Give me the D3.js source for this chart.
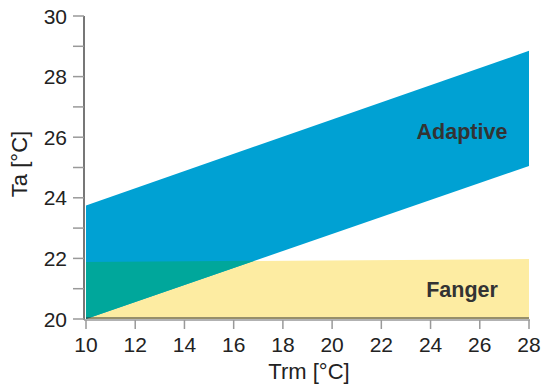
<!DOCTYPE html>
<html>
<head>
<meta charset="utf-8">
<script src="https://cdn.jsdelivr.net/npm/d3@7"></script>
<style>
  body { margin: 0; background: #fff; }
  text { font-family: "Liberation Sans", Arial, sans-serif; }
</style>
</head>
<body>
<div id="chart"></div>
<script>
// band edges: [Trm, Ta]
var adaptiveUpper = [[10, 23.75], [28, 28.85]];
var adaptiveLower = [[10, 20.0], [28, 25.05]];
var fangerUpper = [[10, 21.88], [28, 21.98]];
var fangerLower = [[10, 20.0], [28, 20.0]];
var xTicks = [10, 12, 14, 16, 18, 20, 22, 24, 26, 28];
var yTicks = [20, 21, 22, 23, 24, 25, 26, 27, 28, 29, 30];
var yLabels = [20, 22, 24, 26, 28, 30];

var width = 542;
var height = 389;

var svg = d3.select("#chart").append("svg")
    .attr("width", width)
    .attr("height", height);

var x = d3.scaleLinear().domain([10, 28]).range([86, 529]);
var y = d3.scaleLinear().domain([20, 30]).range([319, 16]);

function band(upper, lower) {
    var pts = upper.concat(lower.slice().reverse());
    return d3.line().x(function (d) { return x(d[0]); }).y(function (d) { return y(d[1]); })(pts) + "Z";
}

// clip for the overlap of the two zones
svg.append("clipPath").attr("id", "fangerClip")
    .append("path").attr("d", band(fangerUpper, fangerLower));

svg.append("path")
    .attr("d", band(fangerUpper, fangerLower))
    .attr("fill", "#fdeca2");

svg.append("path")
    .attr("d", band(adaptiveUpper, adaptiveLower))
    .attr("fill", "#00a1d3");

svg.append("path")
    .attr("d", band(adaptiveUpper, adaptiveLower))
    .attr("fill", "#00a79b")
    .attr("clip-path", "url(#fangerClip)");

// dark line along the bottom of the fill
svg.append("line")
    .attr("x1", x(10)).attr("x2", x(28))
    .attr("y1", y(20) - 1).attr("y2", y(20) - 1)
    .attr("stroke", "#333").attr("stroke-width", 1.2);

// axes
var gy = svg.append("g").attr("transform", "translate(84,0)");
gy.append("line").attr("x1", 0).attr("x2", 0).attr("y1", y(30)).attr("y2", y(20) + 1)
    .attr("stroke", "#777").attr("stroke-width", 2);
gy.selectAll(".tick").data(yTicks).enter().append("line")
    .attr("x1", -11).attr("x2", 0)
    .attr("y1", function (d) { return y(d); }).attr("y2", function (d) { return y(d); })
    .attr("stroke", "#999").attr("stroke-width", 1.5);
gy.selectAll(".lab").data(yLabels).enter().append("text")
    .attr("x", -17).attr("y", function (d) { return y(d); })
    .attr("dy", "0.36em")
    .attr("text-anchor", "end")
    .attr("font-size", "21px").attr("fill", "#222")
    .text(function (d) { return d; });

var gx = svg.append("g").attr("transform", "translate(0,320)");
gx.append("line").attr("x1", 84).attr("x2", x(28) + 1).attr("y1", 0).attr("y2", 0)
    .attr("stroke", "#999").attr("stroke-width", 1.5);
gx.selectAll(".tick").data(xTicks).enter().append("line")
    .attr("x1", function (d) { return x(d); }).attr("x2", function (d) { return x(d); })
    .attr("y1", 0).attr("y2", 9)
    .attr("stroke", "#999").attr("stroke-width", 1.5);
gx.selectAll(".lab").data(xTicks).enter().append("text")
    .attr("x", function (d) { return x(d); }).attr("y", 24)
    .attr("dy", "0.36em")
    .attr("text-anchor", "middle")
    .attr("font-size", "21px").attr("fill", "#222")
    .text(function (d) { return d; });

// axis titles
svg.append("text")
    .attr("x", 309).attr("y", 379)
    .attr("text-anchor", "middle")
    .attr("font-size", "22px").attr("fill", "#222")
    .text("Trm [°C]");

svg.append("text")
    .attr("transform", "translate(27,164) rotate(-90)")
    .attr("text-anchor", "middle")
    .attr("font-size", "22px").attr("fill", "#222")
    .text("Ta [°C]");

// zone labels
svg.append("text")
    .attr("x", 462).attr("y", 139)
    .attr("text-anchor", "middle")
    .attr("font-size", "21.5px").attr("font-weight", "bold").attr("fill", "#333")
    .text("Adaptive");

svg.append("text")
    .attr("x", 462).attr("y", 297)
    .attr("text-anchor", "middle")
    .attr("font-size", "21.5px").attr("font-weight", "bold").attr("fill", "#333")
    .text("Fanger");
</script>
</body>
</html>
